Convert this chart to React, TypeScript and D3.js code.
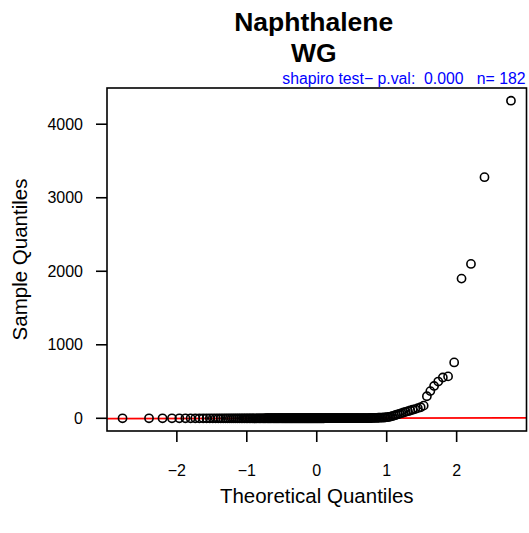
import React from "react";
import * as d3 from "d3";

const TITLE_LINE1 = "Naphthalene";
const TITLE_LINE2 = "WG";
const SUBTITLE = "shapiro test\u2212 p.val:  0.000   n= 182";
const X_LABEL = "Theoretical Quantiles";
const Y_LABEL = "Sample Quantiles";
const X_TICKS = [-2, -1, 0, 1, 2];
const Y_TICKS = [0, 1000, 2000, 3000, 4000];

// sorted sample values
const sampleLow = [
  0.01, 0.01, 0.02, 0.02, 0.03, 0.03, 0.04, 0.04, 0.05, 0.05,
  0.06, 0.06, 0.07, 0.07, 0.08, 0.08, 0.09, 0.09, 0.1, 0.1,
  0.11, 0.12, 0.12, 0.13, 0.14, 0.14, 0.15, 0.16, 0.17, 0.17,
  0.18, 0.19, 0.2, 0.21, 0.22, 0.23, 0.24, 0.25, 0.26, 0.27,
  0.28, 0.29, 0.3, 0.31, 0.32, 0.34, 0.35, 0.36, 0.38, 0.39,
];
const sampleMid = [
  0.4, 0.41, 0.42, 0.43, 0.44, 0.45, 0.46, 0.47, 0.48, 0.49,
  0.5, 0.51, 0.52, 0.53, 0.54, 0.55, 0.56, 0.57, 0.58, 0.6,
  0.61, 0.62, 0.63, 0.64, 0.65, 0.66, 0.67, 0.68, 0.7, 0.71,
  0.72, 0.73, 0.74, 0.75, 0.77, 0.78, 0.79, 0.8, 0.82, 0.83,
  0.84, 0.86, 0.87, 0.88, 0.9, 0.91, 0.93, 0.95, 0.97, 0.99,
];
const sampleUpper = [
  1.0, 1.02, 1.04, 1.06, 1.08, 1.1, 1.12, 1.14, 1.16, 1.18,
  1.2, 1.22, 1.25, 1.27, 1.3, 1.32, 1.35, 1.38, 1.4, 1.43,
  1.46, 1.5, 1.53, 1.57, 1.6, 1.64, 1.68, 1.72, 1.77, 1.82,
  1.87, 1.93, 2.0, 2.1, 2.2, 2.3, 2.5, 2.7, 2.9, 3.2,
  3.5, 3.9, 4.3, 4.8, 5.3, 5.9, 6.6, 7.4, 8.3, 9.2,
];
const sampleRise = [10, 11, 12.5, 15, 19, 24, 30, 37, 45, 53, 61, 70, 79, 88, 97, 106, 116, 126];
const sampleTail = [138, 150, 172, 300, 370, 440, 500, 555, 570, 760, 1900, 2100, 3280, 4320];

const sample = [...sampleLow, ...sampleMid, ...sampleUpper, ...sampleRise, ...sampleTail];

// inverse normal CDF (Acklam)
function qnorm(p: number): number {
  const a = [-3.969683028665376e1, 2.209460984245205e2, -2.759285104469687e2, 1.38357751867269e2, -3.066479806614716e1, 2.506628277459239];
  const b = [-5.447609879822406e1, 1.615858368580409e2, -1.556989798598866e2, 6.680131188771972e1, -1.328068155288572e1];
  const c = [-7.784894002430293e-3, -3.223964580411365e-1, -2.400758277161838, -2.549732539343734, 4.374664141464968, 2.938163982698783];
  const d = [7.784695709041462e-3, 3.224671290700398e-1, 2.445134137142996, 3.754408661907416];
  const plow = 0.02425;
  if (p < plow) {
    const q = Math.sqrt(-2 * Math.log(p));
    return (((((c[0] * q + c[1]) * q + c[2]) * q + c[3]) * q + c[4]) * q + c[5]) / ((((d[0] * q + d[1]) * q + d[2]) * q + d[3]) * q + 1);
  }
  if (p <= 1 - plow) {
    const q = p - 0.5;
    const r = q * q;
    return ((((((a[0] * r + a[1]) * r + a[2]) * r + a[3]) * r + a[4]) * r + a[5]) * q) / (((((b[0] * r + b[1]) * r + b[2]) * r + b[3]) * r + b[4]) * r + 1);
  }
  const q = Math.sqrt(-2 * Math.log(1 - p));
  return -(((((c[0] * q + c[1]) * q + c[2]) * q + c[3]) * q + c[4]) * q + c[5]) / ((((d[0] * q + d[1]) * q + d[2]) * q + d[3]) * q + 1);
}

export default function App() {
  const W = 529, H = 533;
  const left = 107, right = 526.5, top = 88, bottom = 431;
  const n = sample.length;
  const sorted = [...sample].sort((a, b) => a - b);
  const aa = n <= 10 ? 3 / 8 : 0.5;
  const theo = sorted.map((_, i) => qnorm((i + 1 - aa) / (n + 1 - 2 * aa)));
  const pts = sorted.map((v, i) => ({ x: theo[i], y: v }));

  const xMin = d3.min(theo)!, xMax = d3.max(theo)!;
  const yMin = d3.min(sorted)!, yMax = d3.max(sorted)!;
  const xPad = (xMax - xMin) * 0.04, yPad = (yMax - yMin) * 0.04;
  const x = d3.scaleLinear().domain([xMin - xPad, xMax + xPad]).range([left, right]);
  const y = d3.scaleLinear().domain([yMin - yPad, yMax + yPad]).range([bottom, top]);

  // qqline
  const q1 = d3.quantile(sorted, 0.25)!, q3 = d3.quantile(sorted, 0.75)!;
  const t1 = qnorm(0.25), t3 = qnorm(0.75);
  const slope = (q3 - q1) / (t3 - t1);
  const intercept = q1 - slope * t1;
  const [dx0, dx1] = x.domain();

  const font = "'Liberation Sans', Arial, Helvetica, sans-serif";
  const tick = 11;

  return (
    <svg width={W} height={H} style={{ position: "absolute", left: 0, top: 0, background: "#fff" }} fontFamily={font}>
      <rect x={0} y={0} width={W} height={H} fill="#fff" />
      <text x={(left + right) / 2 - 3} y={31} textAnchor="middle" fontSize={26.5} fontWeight="bold">{TITLE_LINE1}</text>
      <text x={(left + right) / 2 - 3} y={61.5} textAnchor="middle" fontSize={26.5} fontWeight="bold">{TITLE_LINE2}</text>
      <text x={right - 1} y={83.5} textAnchor="end" fontSize={15.8} fill="#0000ff" style={{ whiteSpace: "pre" }} xmlSpace="preserve">{SUBTITLE}</text>

      <defs>
        <clipPath id="plotclip">
          <rect x={left} y={top} width={right - left} height={bottom - top} />
        </clipPath>
      </defs>

      <g clipPath="url(#plotclip)">
        <line x1={x(dx0)} x2={x(dx1)} y1={y(intercept + slope * dx0)} y2={y(intercept + slope * dx1)} stroke="#ff0000" strokeWidth={1.8} />
      </g>

      {pts.map((p, i) => (
        <circle key={i} cx={x(p.x)} cy={y(p.y)} r={4.1} fill="none" stroke="#000" strokeWidth={1.6} />
      ))}

      <rect x={left} y={top} width={right - left} height={bottom - top} fill="none" stroke="#000" strokeWidth={1.6} />

      {X_TICKS.map((t) => (
        <g key={t}>
          <line x1={x(t)} x2={x(t)} y1={bottom} y2={bottom + tick} stroke="#000" strokeWidth={1.6} />
          <text x={x(t)} y={476} textAnchor="middle" fontSize={16}>{t < 0 ? "\u2212" + Math.abs(t) : String(t)}</text>
        </g>
      ))}
      {Y_TICKS.map((t) => (
        <g key={t}>
          <line x1={left} x2={left - tick} y1={y(t)} y2={y(t)} stroke="#000" strokeWidth={1.6} />
          <text x={83} y={y(t)} dy="0.35em" textAnchor="end" fontSize={16}>{String(t)}</text>
        </g>
      ))}

      <text x={(left + right) / 2} y={503} textAnchor="middle" fontSize={20.5}>{X_LABEL}</text>
      <text transform={`translate(27,${(top + bottom) / 2}) rotate(-90)`} textAnchor="middle" fontSize={20.5}>{Y_LABEL}</text>
    </svg>
  );
}
